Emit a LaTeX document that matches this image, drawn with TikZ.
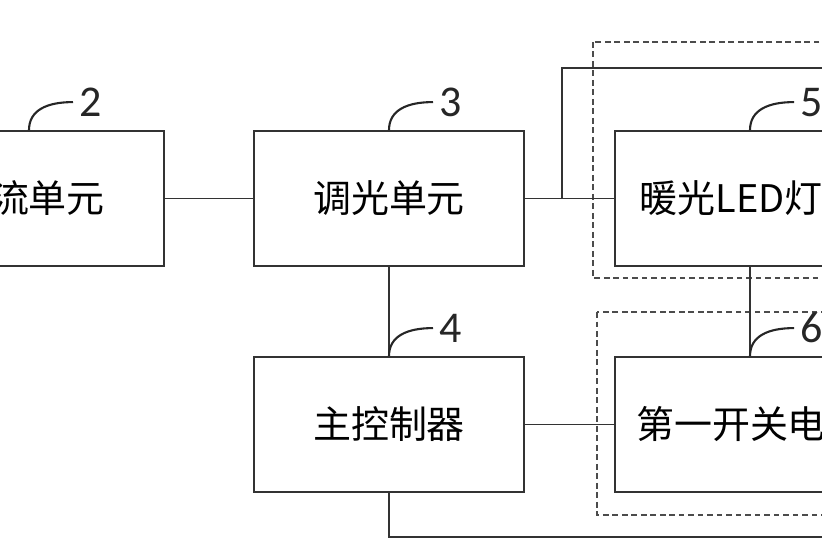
\documentclass[tikz,border=0pt]{standalone}
\usepackage{fontspec}
\setmainfont{Noto Sans CJK SC}
\newfontfamily\numfont{Carlito}
\begin{document}
\begin{tikzpicture}[x=0.01cm,y=-0.01cm,
	unit/.style={shape=rectangle,minimum width=2.7cm,minimum height=1.35cm,draw=black!80,line width=0.5pt,font=\fontsize{10.8}{13}\selectfont},
	group/.style={draw=black!70,dash pattern=on 1.6pt off 1.1pt,line width=0.4pt},
	tag/.style={font=\numfont\fontsize{12.5}{12.5}\selectfont,anchor=west,inner sep=1.5pt}]
	\useasboundingbox (0,0) rectangle (822,548);
	\clip (0,0) rectangle (822,548);

	\node (rectUnit) at (29,198.5)[unit] {整流单元};
	\node (dimUnit) at (389,198.5)[unit] {调光单元};
	\node (mainCtrl) at (389,424.5)[unit] {主控制器};
	\node (warmLed) at (750,198.5)[unit] {暖光LED灯组};
	\node (switchOne) at (750,424.5)[unit] {第一开关电路};

	% dashed groups
	\draw[group] (593,42) rectangle (907,278);
	\draw[group] (597,312) rectangle (903,515);

	\coordinate (tapA) at (562,198.5);
	\coordinate (feedEnd) at (840,68);
	\coordinate (backEnd) at (840,537);

	\draw[black!80,line width=0.5pt] (rectUnit.east) -- (dimUnit.west);
	\draw[black!80,line width=0.5pt] (dimUnit.east) -- (warmLed.west);
	\draw[black!80,line width=0.5pt] (tapA) |- (feedEnd);
	\draw[black!80,line width=0.5pt] (dimUnit.south) -- (mainCtrl.north);
	\draw[black!80,line width=0.5pt] (mainCtrl.east) -- (switchOne.west);
	\draw[black!80,line width=0.5pt] (warmLed.south) -- (switchOne.north);
	\draw[black!80,line width=0.5pt] (mainCtrl.south) |- (backEnd);

	% reference numbers
	\draw[black!85,line width=0.6pt] (rectUnit.north) .. controls +(0,-20) and +(-26,0) .. +(44,-28) node[tag] {2};
	\draw[black!85,line width=0.6pt] (dimUnit.north) .. controls +(0,-20) and +(-26,0) .. +(44,-28) node[tag] {3};
	\draw[black!85,line width=0.6pt] (mainCtrl.north) .. controls +(0,-20) and +(-26,0) .. +(44,-28) node[tag] {4};
	\draw[black!85,line width=0.6pt] (warmLed.north) .. controls +(0,-20) and +(-26,0) .. +(44,-28) node[tag] {5};
	\draw[black!85,line width=0.6pt] (switchOne.north) .. controls +(0,-20) and +(-26,0) .. +(44,-28) node[tag] {6};
\end{tikzpicture}
\end{document}
